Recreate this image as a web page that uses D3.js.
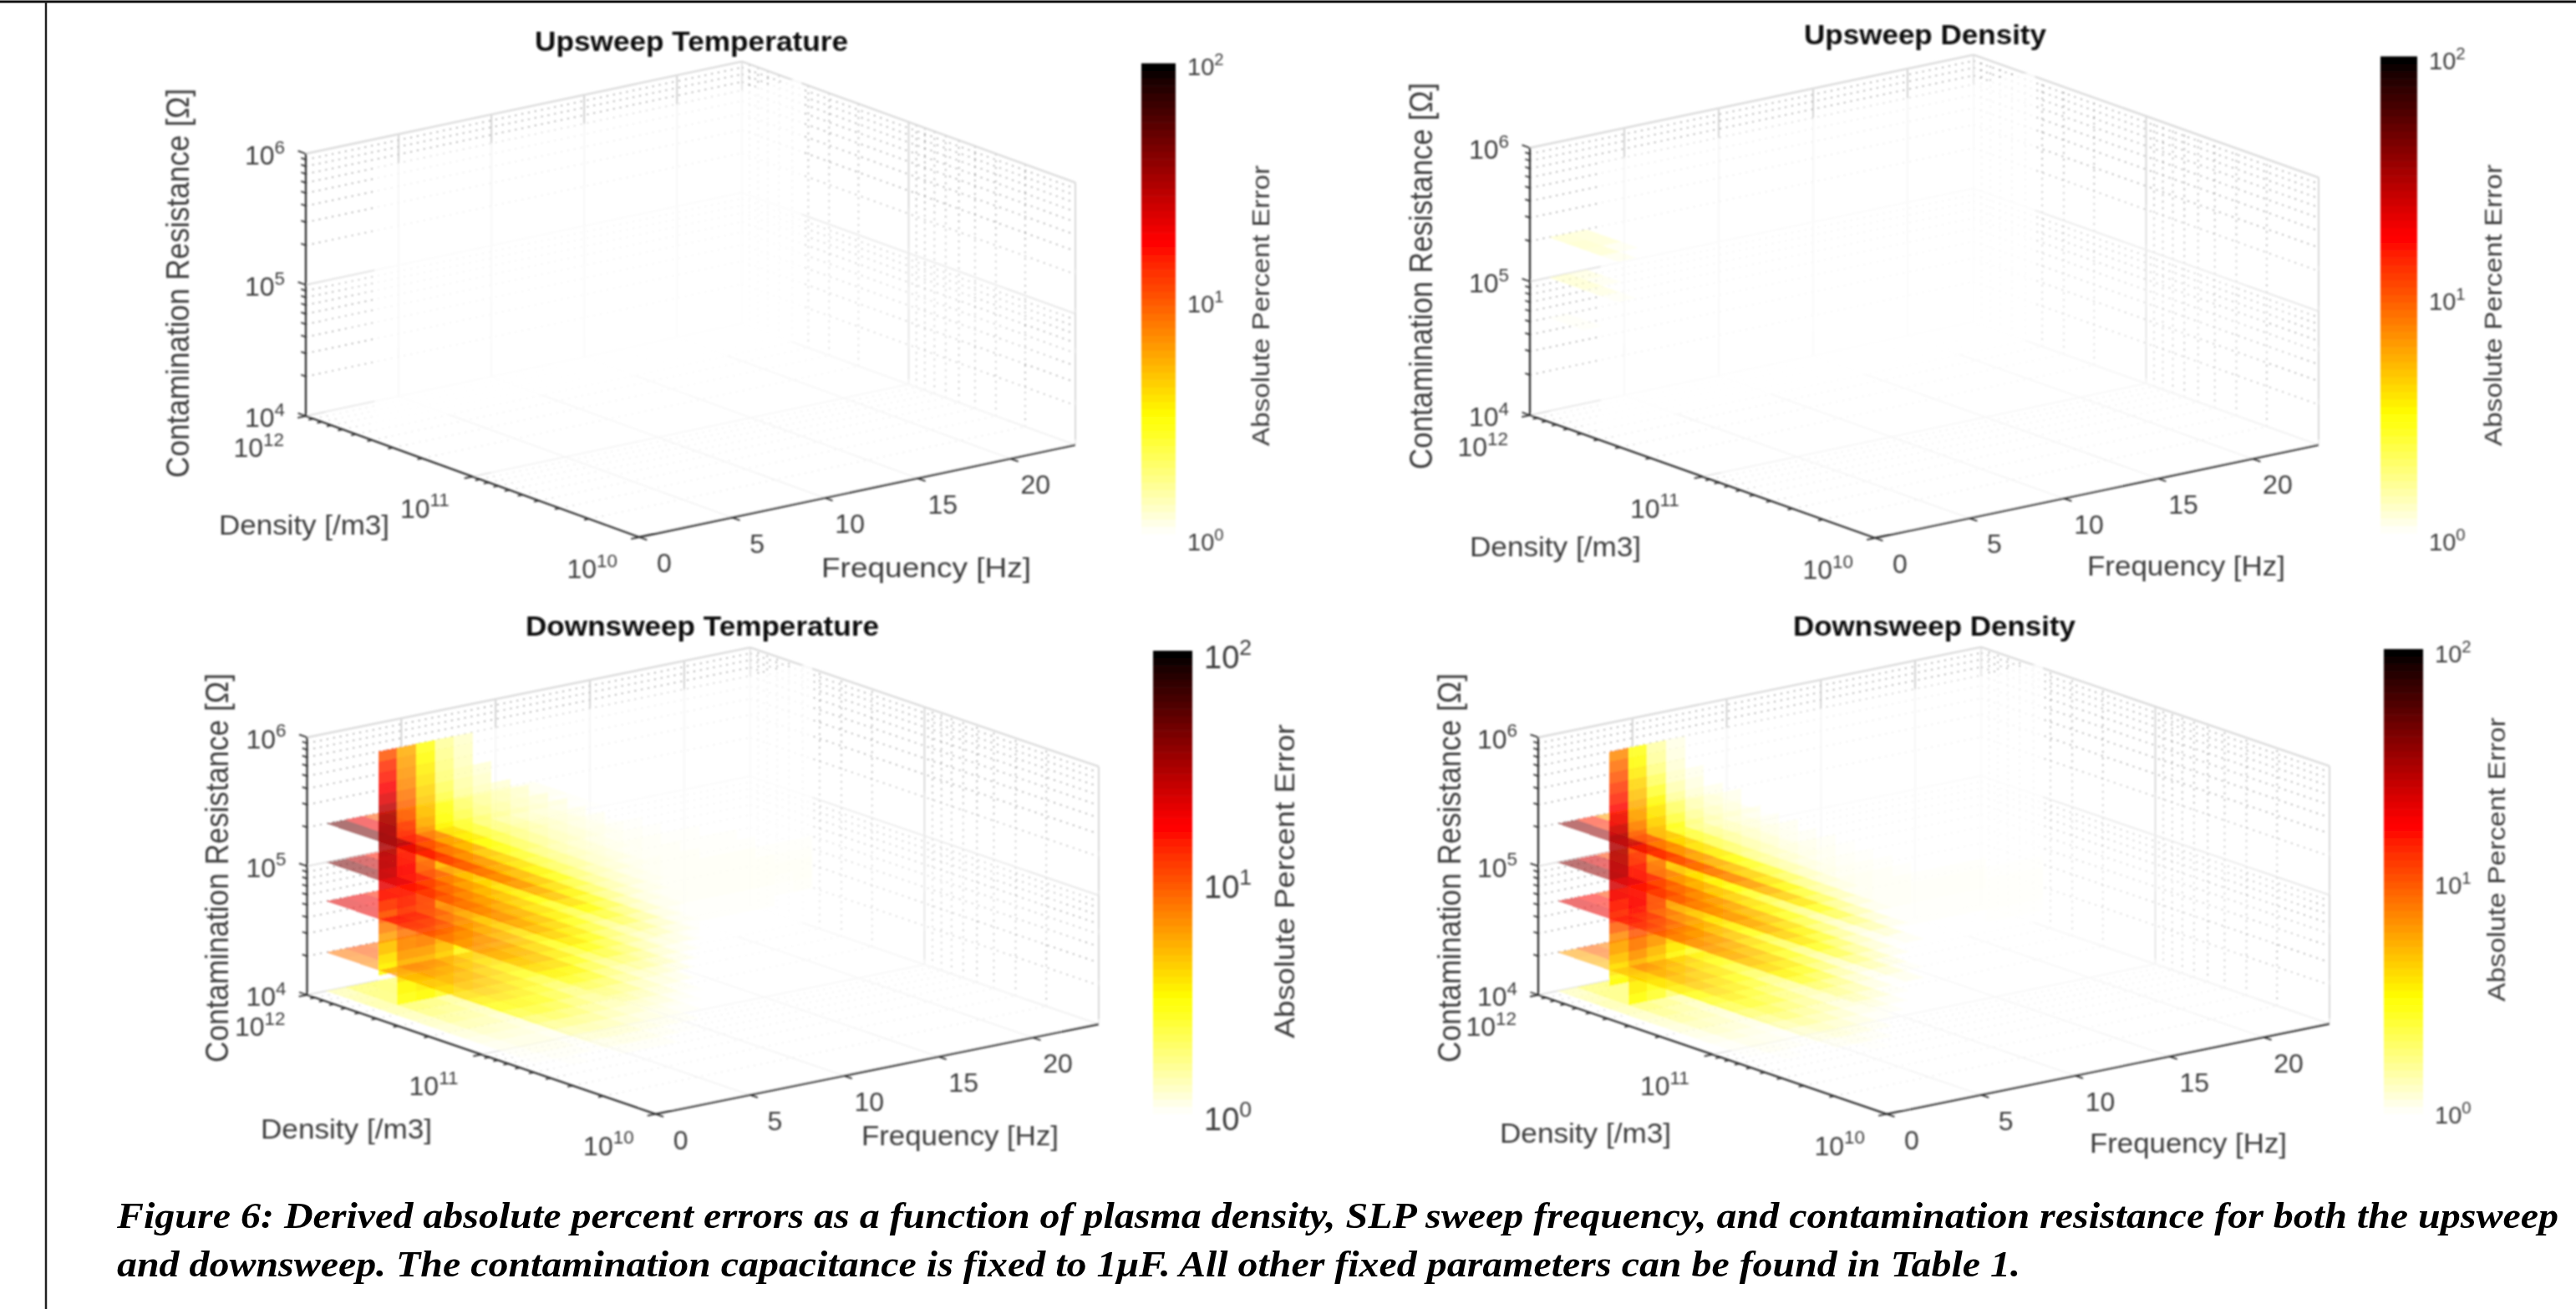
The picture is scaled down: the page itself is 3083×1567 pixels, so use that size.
<!DOCTYPE html>
<html>
<head>
<meta charset="utf-8">
<script src="https://cdn.jsdelivr.net/npm/d3@7"></script>
<style>
html, body { margin: 0; padding: 0; background: #fff; }
text { font-family: "Liberation Sans", Arial, sans-serif; }
</style>
</head>
<body>
<div id="my_dataviz"></div>
<script>
// axis values
var fTicks = [0, 5, 10, 15, 20];
var fLimits = [0, 23.5];
var densityTicks = [1e12, 1e11, 1e10];
var densityMinor = [9e11, 8e11, 7e11, 6e11, 5e11, 4e11, 3e11, 2e11, 9e10, 8e10, 7e10, 6e10, 5e10, 4e10, 3e10, 2e10];
var resistTicks = [1e4, 1e5, 1e6];
var resistMinor = [2e4, 3e4, 4e4, 5e4, 6e4, 7e4, 8e4, 9e4, 2e5, 3e5, 4e5, 5e5, 6e5, 7e5, 8e5, 9e5];
var errorTicks = [1, 10, 100];

// cell edges of the slices
var fEdges = [1, 2, 3, 4, 5, 6, 7, 8, 9, 10, 11, 12, 13, 14, 15, 16, 17, 18, 19, 20, 21, 22, 23, 24];
var densityEdges = [1e12, 7.9e11, 6.3e11, 5e11, 4e11, 3.2e11, 2.5e11, 2e11, 1.6e11, 1.3e11, 1e11, 7.9e10, 6.3e10, 5e10, 4e10, 3.2e10, 2.5e10, 2e10, 1.6e10, 1.3e10, 1e10];
var resistEdges = [1e4, 1.2e4, 1.5e4, 1.8e4, 2.2e4, 2.6e4, 3.2e4, 3.8e4, 4.6e4, 5.6e4, 6.8e4, 8.3e4, 1e5, 1.2e5, 1.5e5, 1.8e5, 2.2e5, 2.6e5, 3.2e5, 3.8e5, 4.6e5, 5.6e5, 6.8e5, 8.3e5, 1e6];
var sliceResist = [1e4, 2e4, 5e4, 1e5, 2e5];
var sliceDensity = 5e11;

// percent error, rows = frequency, columns = density, missing cells read as 1
var downT_1e4 = [
    [1.6, 1.7, 1.8, 1.8, 1.7, 1.6, 1.5, 1.4, 1.3, 1.2, 1.1, 1.05],
    [2.4, 2.5, 2.5, 2.4, 2.2, 2, 1.8, 1.6, 1.45, 1.3, 1.2, 1.1, 1.05],
    [2.6, 2.6, 2.5, 2.3, 2.1, 1.9, 1.75, 1.55, 1.4, 1.3, 1.2, 1.1],
    [2.4, 2.3, 2.2, 2, 1.85, 1.7, 1.55, 1.4, 1.3, 1.2, 1.1, 1.05],
    [2, 1.9, 1.8, 1.7, 1.55, 1.45, 1.35, 1.25, 1.15, 1.1, 1.05],
    [1.7, 1.6, 1.55, 1.45, 1.35, 1.25, 1.2, 1.1, 1.05],
    [1.45, 1.4, 1.35, 1.3, 1.2, 1.15, 1.1, 1.05],
    [1.3, 1.25, 1.2, 1.15, 1.1, 1.05],
    [1.2, 1.15, 1.1, 1.05],
    [1.1, 1.05]
];
var downT_2e4 = [
    [8, 7.5, 7, 6.2, 5.5, 5, 4.4, 4, 3.5, 3.1, 2.7, 2.3, 2, 1.7, 1.45, 1.25, 1.1],
    [10, 9.5, 8.5, 7.5, 6.5, 5.7, 5, 4.4, 3.8, 3.3, 2.9, 2.5, 2.1, 1.8, 1.5, 1.3, 1.1],
    [9, 8.5, 8, 7, 6, 5.3, 4.6, 4, 3.5, 3.1, 2.7, 2.3, 2, 1.7, 1.45, 1.25, 1.1],
    [7.5, 7, 6.5, 5.6, 5, 4.4, 3.9, 3.4, 3, 2.7, 2.3, 2, 1.75, 1.5, 1.3, 1.15],
    [6, 5.5, 5, 4.5, 4, 3.5, 3.1, 2.8, 2.5, 2.2, 2, 1.75, 1.55, 1.35, 1.2, 1.05],
    [4.6, 4.3, 4, 3.6, 3.2, 2.8, 2.5, 2.3, 2.1, 1.85, 1.7, 1.5, 1.35, 1.2, 1.1],
    [3.5, 3.3, 3, 2.8, 2.5, 2.3, 2.1, 1.9, 1.75, 1.6, 1.45, 1.3, 1.2, 1.1],
    [2.8, 2.6, 2.4, 2.2, 2, 1.85, 1.7, 1.6, 1.45, 1.35, 1.25, 1.15, 1.05],
    [2.2, 2.1, 2, 1.8, 1.7, 1.55, 1.45, 1.35, 1.25, 1.15, 1.1, 1.05],
    [1.8, 1.7, 1.6, 1.5, 1.4, 1.3, 1.25, 1.15, 1.1, 1.05],
    [1.5, 1.45, 1.35, 1.3, 1.2, 1.15, 1.1, 1.05],
    [1.3, 1.25, 1.2, 1.15, 1.1, 1.05],
    [1.2, 1.15, 1.1, 1.05],
    [1.1, 1.05]
];
var downT_5e4 = [
    [22, 21, 20, 16, 13, 11, 9, 8, 7, 6, 5, 4.2, 3.4, 2.8, 2.3, 1.9, 1.6, 1.3, 1.1],
    [20, 19, 18, 14, 12, 10, 8.5, 7.5, 6.5, 5.5, 4.8, 4, 3.3, 2.7, 2.2, 1.8, 1.5, 1.25],
    [14, 13, 12, 10, 8.5, 7.5, 6.5, 5.6, 4.9, 4.2, 3.6, 3, 2.5, 2.1, 1.8, 1.5, 1.3, 1.1],
    [9, 8.5, 8, 7, 6, 5.2, 4.6, 4, 3.5, 3, 2.7, 2.3, 2, 1.7, 1.5, 1.3, 1.1],
    [6, 5.8, 5.4, 4.8, 4.2, 3.7, 3.3, 2.9, 2.6, 2.3, 2, 1.8, 1.6, 1.4, 1.2, 1.05],
    [4.2, 4, 3.8, 3.4, 3.1, 2.8, 2.5, 2.2, 2, 1.8, 1.65, 1.5, 1.3, 1.2, 1.05],
    [3.2, 3, 2.8, 2.6, 2.4, 2.2, 2, 1.8, 1.65, 1.5, 1.4, 1.3, 1.15, 1.05],
    [2.5, 2.4, 2.2, 2, 1.9, 1.75, 1.6, 1.5, 1.4, 1.3, 1.2, 1.1, 1.05],
    [2, 1.9, 1.8, 1.65, 1.55, 1.45, 1.35, 1.3, 1.2, 1.15, 1.1, 1.05],
    [1.7, 1.6, 1.5, 1.4, 1.35, 1.3, 1.2, 1.15, 1.1, 1.05],
    [1.45, 1.4, 1.3, 1.25, 1.2, 1.15, 1.1, 1.05],
    [1.3, 1.25, 1.2, 1.15, 1.1, 1.05, 1.05],
    [1.2, 1.15, 1.1, 1.05, 1.05],
    [1.1, 1.05, 1.05]
];
var downT_1e5 = [
    [44, 42, 38, 22, 16, 13, 11, 9.5, 8.5, 7.5, 6.5, 5.5, 4.5, 3.7, 3, 2.5, 2, 1.7, 1.4, 1.2],
    [28, 26, 22, 15, 12, 10, 8.5, 7.5, 6.5, 5.8, 5, 4.3, 3.6, 3, 2.5, 2.1, 1.8, 1.5, 1.25],
    [15, 14, 12, 10, 8.5, 7, 6, 5.2, 4.6, 4, 3.5, 3, 2.6, 2.2, 1.9, 1.6, 1.4, 1.2],
    [8, 7.5, 7, 6, 5.2, 4.6, 4, 3.6, 3.2, 2.8, 2.5, 2.2, 1.9, 1.7, 1.5, 1.3, 1.15],
    [5, 4.8, 4.4, 4, 3.6, 3.2, 2.9, 2.6, 2.3, 2.1, 1.9, 1.7, 1.5, 1.35, 1.2, 1.1],
    [3.4, 3.2, 3, 2.8, 2.6, 2.4, 2.2, 2, 1.85, 1.7, 1.55, 1.4, 1.3, 1.2, 1.1],
    [2.5, 2.4, 2.3, 2.1, 2, 1.85, 1.7, 1.6, 1.5, 1.4, 1.3, 1.2, 1.15, 1.05],
    [2, 1.9, 1.8, 1.7, 1.6, 1.5, 1.45, 1.35, 1.3, 1.2, 1.15, 1.1],
    [1.6, 1.55, 1.5, 1.4, 1.35, 1.3, 1.25, 1.2, 1.15, 1.1, 1.05],
    [1.4, 1.35, 1.3, 1.25, 1.2, 1.2, 1.15, 1.1, 1.05],
    [1.25, 1.2, 1.2, 1.15, 1.1, 1.1, 1.05],
    [1.15, 1.1, 1.1, 1.05, 1.05],
    [1.1, 1.05, 1.05]
];
var downT_2e5 = [
    [48, 46, 44, 32, 22, 18, 15, 12.5, 10.5, 9, 7.5, 6, 5, 4, 3.2, 2.6, 2.2, 1.8, 1.5, 1.2],
    [20, 19, 17, 14, 12, 10, 8.5, 7.5, 6.5, 5.5, 4.8, 4, 3.4, 2.8, 2.4, 2, 1.7, 1.4, 1.2],
    [10, 9.5, 9, 8, 7, 6, 5, 4.4, 3.9, 3.4, 3, 2.6, 2.2, 1.9, 1.6, 1.4, 1.2, 1.1],
    [5, 4.8, 4.5, 4, 3.6, 3.2, 2.9, 2.7, 2.4, 2.2, 2, 1.8, 1.6, 1.4, 1.2, 1.1],
    [3, 2.9, 2.8, 2.6, 2.4, 2.2, 2.1, 1.9, 1.8, 1.7, 1.5, 1.4, 1.3, 1.15],
    [2.2, 2.1, 2, 1.9, 1.8, 1.7, 1.6, 1.5, 1.4, 1.3, 1.25, 1.15, 1.1],
    [1.7, 1.7, 1.6, 1.5, 1.5, 1.4, 1.35, 1.3, 1.25, 1.2, 1.1, 1.05],
    [1.4, 1.4, 1.35, 1.3, 1.3, 1.25, 1.2, 1.15, 1.1, 1.05],
    [1.3, 1.25, 1.2, 1.2, 1.15, 1.1, 1.1, 1.05],
    [1.2, 1.15, 1.1, 1.1, 1.05, 1.05],
    [1.1, 1.1, 1.05, 1.05]
];
// vertical slice at fixed density, rows = frequency, columns = resistance from 1e4 up
var downT_wall = [
    [1, 1, 1, 3.2, 3.6, 4.5, 6, 7.5, 9.5, 12, 16, 21, 25, 28, 30, 33, 34, 32, 27, 22, 18, 15, 13, 10],
    [3, 3.3, 4, 5, 6, 7, 8, 10, 12, 14, 16, 17, 17, 16, 15, 13, 12, 10, 9, 8, 7, 6.5, 6, 5.5],
    [3.2, 3.6, 4.2, 5, 6, 7.5, 9, 10, 11, 11.5, 11, 10, 9, 8, 7, 6.3, 5.5, 5, 4.6, 4.2, 3.8, 3.5, 3.2, 3],
    [2.8, 3.2, 3.7, 4.2, 4.8, 5.5, 6, 6.5, 6.5, 6.2, 5.8, 5.3, 4.8, 4.2, 3.7, 3.3, 3, 2.9, 2.6, 2.4, 2.2, 2.1, 2, 1.9],
    [1.9, 2.2, 2.5, 2.8, 3.2, 3.6, 4, 4.3, 4.4, 4.3, 4.1, 3.8, 3.5, 3.2, 2.9, 2.6, 2.3, 2.1, 1.9, 1.8, 1.7, 1.6, 1.55, 1.5],
    [1.5, 1.7, 1.9, 2.1, 2.4, 2.7, 3, 3.2, 3.3, 3.2, 3, 2.8, 2.6, 2.4, 2.2, 2, 1.8, 1.7, 1.6, 1.5, 1.4],
    [1.3, 1.4, 1.6, 1.8, 2, 2.2, 2.4, 2.5, 2.6, 2.6, 2.5, 2.3, 2.2, 2, 1.8, 1.7, 1.6, 1.5, 1.4],
    [1.2, 1.3, 1.4, 1.5, 1.6, 1.8, 1.9, 2, 2.1, 2.1, 2, 1.9, 1.8, 1.7, 1.6, 1.5, 1.4, 1.35],
    [1.1, 1.2, 1.3, 1.4, 1.5, 1.6, 1.7, 1.8, 1.8, 1.8, 1.8, 1.7, 1.6, 1.5, 1.4, 1.35, 1.3],
    [1.1, 1.15, 1.25, 1.3, 1.4, 1.5, 1.55, 1.6, 1.6, 1.6, 1.55, 1.5, 1.4, 1.35, 1.3, 1.25],
    [1.05, 1.1, 1.2, 1.25, 1.3, 1.35, 1.4, 1.45, 1.45, 1.45, 1.4, 1.35, 1.3, 1.25, 1.2],
    [1.05, 1.1, 1.15, 1.2, 1.25, 1.3, 1.3, 1.35, 1.35, 1.3, 1.3, 1.25, 1.2, 1.15],
    [1.05, 1.1, 1.1, 1.15, 1.2, 1.2, 1.25, 1.25, 1.25, 1.2, 1.2, 1.15, 1.1],
    [1.05, 1.05, 1.1, 1.1, 1.15, 1.15, 1.2, 1.2, 1.2, 1.15, 1.15, 1.1, 1.05],
    [1, 1.05, 1.05, 1.1, 1.1, 1.15, 1.15, 1.15, 1.15, 1.1, 1.1, 1.05],
    [1, 1.05, 1.05, 1.1, 1.1, 1.1, 1.1, 1.1, 1.1, 1.1, 1.05],
    [1, 1.05, 1.05, 1.05, 1.1, 1.1, 1.1, 1.1, 1.1, 1.05, 1.05],
    [1, 1, 1.05, 1.05, 1.1, 1.1, 1.1, 1.1, 1.05, 1.05],
    [1, 1, 1.05, 1.05, 1.1, 1.1, 1.1, 1.1, 1.05, 1.05],
    [1, 1, 1.05, 1.05, 1.1, 1.1, 1.1, 1.1, 1.05],
    [1, 1, 1.05, 1.05, 1.1, 1.1, 1.1, 1.05],
    [1, 1, 1, 1.05, 1.08, 1.1, 1.08, 1.05],
    [1, 1, 1, 1.08, 1.1, 1.1, 1.08, 1.05]
];

var downD_1e4 = [
    [1.5, 1.6, 1.7, 1.7, 1.6, 1.5, 1.4, 1.3, 1.2, 1.1, 1.05],
    [2.3, 2.4, 2.4, 2.3, 2.1, 1.9, 1.7, 1.55, 1.4, 1.25, 1.15, 1.05],
    [2.4, 2.4, 2.3, 2.1, 1.9, 1.75, 1.6, 1.45, 1.3, 1.2, 1.1],
    [2.2, 2.1, 2, 1.8, 1.65, 1.5, 1.4, 1.3, 1.2, 1.1, 1.05],
    [1.8, 1.7, 1.6, 1.5, 1.4, 1.3, 1.2, 1.15, 1.05],
    [1.5, 1.45, 1.35, 1.3, 1.2, 1.15, 1.05],
    [1.3, 1.25, 1.2, 1.15, 1.1, 1.05],
    [1.15, 1.1, 1.05]
];
var downD_2e4 = [
    [6, 5.6, 5.2, 4.8, 4.4, 4, 3.6, 3.2, 2.9, 2.6, 2.3, 2, 1.75, 1.5, 1.3, 1.15],
    [9, 8.5, 8, 7, 6, 5.2, 4.6, 4, 3.5, 3, 2.6, 2.3, 1.95, 1.65, 1.4, 1.2, 1.05],
    [7.5, 7, 6.5, 5.8, 5.2, 4.5, 3.9, 3.5, 3, 2.7, 2.3, 2, 1.75, 1.5, 1.3, 1.1],
    [6, 5.6, 5.2, 4.6, 4.1, 3.7, 3.2, 2.9, 2.5, 2.2, 2, 1.75, 1.5, 1.3, 1.15],
    [4.5, 4.2, 3.9, 3.5, 3.1, 2.8, 2.5, 2.2, 2, 1.8, 1.6, 1.4, 1.25, 1.1],
    [3.4, 3.2, 3, 2.7, 2.4, 2.2, 2, 1.8, 1.6, 1.45, 1.3, 1.2, 1.05],
    [2.6, 2.5, 2.3, 2.1, 1.9, 1.75, 1.6, 1.45, 1.35, 1.2, 1.1, 1.05],
    [2, 1.9, 1.8, 1.65, 1.5, 1.4, 1.3, 1.2, 1.1, 1.05],
    [1.65, 1.55, 1.45, 1.35, 1.25, 1.2, 1.1, 1.05],
    [1.35, 1.3, 1.2, 1.15, 1.1, 1.05],
    [1.15, 1.1, 1.05]
];
var downD_5e4 = [
    [22, 21, 20, 15, 12.5, 10.5, 9, 8, 7, 6, 5, 4.2, 3.4, 2.8, 2.3, 1.9, 1.6, 1.3, 1.1],
    [17, 16, 15, 12.5, 10.5, 9, 7.8, 6.8, 5.8, 5, 4.3, 3.6, 3, 2.5, 2, 1.7, 1.4, 1.15],
    [11, 10.5, 9.5, 8.5, 7.3, 6.3, 5.5, 4.8, 4.1, 3.5, 3, 2.6, 2.2, 1.8, 1.5, 1.3, 1.1],
    [7, 6.5, 6, 5.2, 4.6, 4, 3.5, 3.1, 2.7, 2.4, 2.1, 1.85, 1.6, 1.4, 1.2, 1.05],
    [4.5, 4.3, 4, 3.6, 3.2, 2.9, 2.6, 2.3, 2.1, 1.85, 1.65, 1.5, 1.3, 1.15, 1.05],
    [3.2, 3, 2.8, 2.5, 2.3, 2.1, 1.9, 1.75, 1.6, 1.45, 1.3, 1.2, 1.05],
    [2.4, 2.3, 2.1, 1.9, 1.8, 1.65, 1.5, 1.4, 1.3, 1.2, 1.1, 1.05],
    [1.9, 1.8, 1.65, 1.55, 1.45, 1.35, 1.25, 1.2, 1.1, 1.05],
    [1.55, 1.45, 1.35, 1.3, 1.25, 1.15, 1.1, 1.05],
    [1.3, 1.25, 1.2, 1.15, 1.1, 1.05],
    [1.15, 1.1, 1.05]
];
var downD_1e5 = [
    [40, 38, 34, 22, 16, 13, 11, 9.5, 8.5, 7.5, 6.5, 5.5, 4.5, 3.7, 3, 2.5, 2, 1.7, 1.4, 1.2],
    [24, 22, 19, 14, 11.5, 10, 8.5, 7.5, 6.5, 5.5, 4.8, 4, 3.4, 2.8, 2.3, 1.9, 1.6, 1.3, 1.1],
    [11, 10.5, 9.5, 8, 7, 6, 5.2, 4.6, 4, 3.5, 3, 2.6, 2.2, 1.9, 1.6, 1.4, 1.2],
    [5.8, 5.5, 5, 4.5, 4, 3.5, 3.1, 2.8, 2.5, 2.2, 2, 1.75, 1.55, 1.35, 1.2, 1.05],
    [3.5, 3.4, 3.1, 2.9, 2.6, 2.4, 2.2, 2, 1.8, 1.65, 1.5, 1.35, 1.2, 1.1],
    [2.5, 2.4, 2.2, 2.1, 1.9, 1.8, 1.65, 1.5, 1.4, 1.3, 1.2, 1.1],
    [1.9, 1.8, 1.7, 1.6, 1.5, 1.4, 1.3, 1.25, 1.15, 1.1, 1.05],
    [1.5, 1.45, 1.4, 1.3, 1.25, 1.2, 1.15, 1.1, 1.05],
    [1.3, 1.25, 1.2, 1.15, 1.1, 1.05],
    [1.15, 1.1, 1.05]
];
var downD_2e5 = [
    [40, 38, 36, 27, 20, 17, 14, 12, 10, 8.5, 7, 5.6, 4.6, 3.8, 3, 2.5, 2, 1.7, 1.4, 1.15],
    [14, 13, 12, 10.5, 9, 8, 7, 6, 5.2, 4.5, 3.9, 3.3, 2.8, 2.4, 2, 1.7, 1.4, 1.2],
    [6, 5.8, 5.5, 5, 4.5, 4, 3.6, 3.2, 2.9, 2.6, 2.3, 2, 1.8, 1.6, 1.35, 1.15],
    [3, 2.9, 2.8, 2.6, 2.4, 2.2, 2, 1.85, 1.7, 1.6, 1.45, 1.3, 1.2, 1.05],
    [2, 1.95, 1.85, 1.75, 1.65, 1.55, 1.45, 1.4, 1.3, 1.2, 1.1, 1.05],
    [1.55, 1.5, 1.45, 1.4, 1.3, 1.25, 1.2, 1.15, 1.1, 1.05],
    [1.3, 1.25, 1.2, 1.2, 1.15, 1.1, 1.05],
    [1.15, 1.1, 1.1, 1.05]
];
var downD_wall = [
    [1, 1, 3.2, 3.8, 4.6, 5.7, 7, 9.5, 13, 15, 19, 24, 28, 29, 30, 30, 25, 20, 17, 14, 12, 10, 8.5, 7],
    [3.1, 3.5, 4.2, 5, 6.5, 8, 10, 13, 16, 18, 18, 17, 15, 13, 11, 9, 7.5, 6.3, 5.5, 4.8, 4.2, 3.6, 3.2, 3],
    [2.7, 3, 3.5, 4.2, 5, 6.5, 8, 9.5, 10.5, 11, 10.5, 9.5, 8, 6.8, 5.8, 5, 4.4, 3.8, 3.3, 2.8, 2.4, 2.1, 1.9, 1.8],
    [2, 2.3, 2.6, 3, 3.6, 4.2, 5, 5.6, 6, 6, 5.6, 5, 4.4, 3.8, 3.3, 2.9, 2.5, 2.2, 1.9, 1.7, 1.5, 1.4, 1.3, 1.25],
    [1.6, 1.8, 2.1, 2.5, 3, 3.5, 4, 4.2, 4.2, 4, 3.6, 3.2, 2.8, 2.5, 2.2, 1.9, 1.7, 1.55, 1.4, 1.3, 1.2],
    [1.4, 1.6, 1.8, 2, 2.4, 2.7, 3, 3.1, 3.1, 2.9, 2.6, 2.4, 2.1, 1.9, 1.7, 1.5, 1.4, 1.3, 1.2],
    [1.25, 1.4, 1.5, 1.7, 1.9, 2.1, 2.3, 2.4, 2.4, 2.3, 2.1, 1.9, 1.75, 1.6, 1.45, 1.35, 1.25, 1.2],
    [1.15, 1.25, 1.35, 1.5, 1.6, 1.8, 1.9, 2, 2, 1.9, 1.8, 1.6, 1.5, 1.4, 1.3, 1.2],
    [1.1, 1.15, 1.25, 1.35, 1.45, 1.55, 1.65, 1.7, 1.7, 1.65, 1.55, 1.45, 1.35, 1.25, 1.15],
    [1.05, 1.1, 1.2, 1.25, 1.35, 1.4, 1.45, 1.5, 1.5, 1.45, 1.4, 1.3, 1.2, 1.15],
    [1.05, 1.1, 1.15, 1.2, 1.25, 1.3, 1.35, 1.35, 1.35, 1.3, 1.25, 1.2, 1.1],
    [1.05, 1.05, 1.1, 1.15, 1.2, 1.2, 1.25, 1.25, 1.25, 1.2, 1.15, 1.1],
    [1, 1.05, 1.1, 1.1, 1.15, 1.15, 1.2, 1.2, 1.15, 1.1, 1.05],
    [1, 1.05, 1.05, 1.1, 1.1, 1.15, 1.15, 1.15, 1.1, 1.05],
    [1, 1.05, 1.05, 1.05, 1.1, 1.1, 1.1, 1.1, 1.05],
    [1, 1, 1.05, 1.05, 1.1, 1.1, 1.1, 1.05],
    [1, 1, 1.05, 1.05, 1.08, 1.08, 1.05],
    [1, 1, 1.05, 1.05, 1.08, 1.08, 1.05],
    [1, 1, 1.05, 1.05, 1.08, 1.08, 1.05],
    [1, 1, 1.05, 1.05, 1.08, 1.08, 1.05],
    [1, 1.03, 1.05, 1.05, 1.05, 1.03],
    [1, 1.03, 1.05, 1.05, 1.05, 1.03],
    [1, 1.03, 1.05, 1.05, 1.05, 1.03]
];

var upD_5e4 = [[1.05, 1.05]];
var upD_1e5 = [[1.35, 1.35, 1.2, 1.1], [1.2, 1.1]];
var upD_2e5 = [[1.35, 1.4, 1.35, 1.2], [1.3, 1.3, 1.1]];

var caption = [
    "Figure 6: Derived absolute percent errors as a function of plasma density, SLP sweep frequency, and contamination resistance for both the upsweep",
    "and downsweep. The contamination capacitance is fixed to 1\u03bcF. All other fixed parameters can be found in Table 1."
];

var panels = [{
    title: "Upsweep Temperature",
    slices: [[], [], [], [], []], wall: [],
    A: [366, 498], B: [765, 643], C: [1287, 532.6], H: 314,
    titleBox: [640, 60.6, 375], yLabel: [226, 572, 466], dLabel: [262, 640, 204], fLabel: [983, 691, 251],
    bar: [1366, 1407, 75.8, 639], barText: [1421, [659, 374, 90], 29], barLabel: [1519, 534, 336, 30]
}, {
    title: "Upsweep Density",
    slices: [[], [], upD_5e4, upD_1e5, upD_2e5], wall: [],
    A: [1831, 497], B: [2244, 644], C: [2775, 532.6], H: 320,
    titleBox: [2159, 53, 290], yLabel: [1714, 562, 463], dLabel: [1759, 666, 205], fLabel: [2498, 689, 237],
    bar: [2849, 2893, 67.5, 638], barText: [2907, [659, 371, 83], 29], barLabel: [2994, 534, 337, 30]
}, {
    title: "Downsweep Temperature",
    slices: [downT_1e4, downT_2e4, downT_5e4, downT_1e5, downT_2e5], wall: downT_wall,
    A: [367.5, 1191], B: [784.6, 1333.6], C: [1315, 1226], H: 308.3,
    titleBox: [629, 761, 423], yLabel: [273, 1272, 466], dLabel: [312, 1363, 205], fLabel: [1031, 1371, 236],
    bar: [1380, 1427, 779, 1333], barText: [1441, [1353, 1075, 800], 38], barLabel: [1549, 1243, 376, 34]
}, {
    title: "Downsweep Density",
    slices: [downD_1e4, downD_2e4, downD_5e4, downD_1e5, downD_2e5], wall: downD_wall,
    A: [1841, 1191], B: [2258, 1333.6], C: [2788, 1225.5], H: 308.3,
    titleBox: [2146, 761, 338], yLabel: [1748, 1272, 466], dLabel: [1795, 1367.5, 205], fLabel: [2501, 1379.5, 236],
    bar: [2853, 2900, 777, 1333], barText: [2914, [1345, 1070, 793], 29], barLabel: [2998, 1199, 340, 30]
}];

var svg = d3.select("#my_dataviz")
    .append("svg")
    .attr("width", 3083)
    .attr("height", 1567)
    .style("display", "block");

svg.append("defs").append("filter")
    .attr("id", "soft")
    .attr("filterUnits", "userSpaceOnUse")
    .attr("x", 0).attr("y", 0).attr("width", 3083).attr("height", 1567)
    .append("feGaussianBlur")
    .attr("stdDeviation", 0.9);

// flipped MATLAB hot map, on a log axis from 1 to 100
var errorPos = d3.scaleLog().domain([1, 100]).range([0, 1]);
var hot = d3.scaleLinear()
    .domain([0, 0.25, 0.625, 1])
    .range(["#ffffff", "#ffff00", "#ff0000", "#000000"])
    .clamp(true);

// small errors are fainter
var frontAlpha = d3.scaleLog().domain([1.05, 3.2]).range([0.3, 0.72]).clamp(true);
var wallAlpha = d3.scaleLog().domain([1.05, 3.2]).range([0.35, 0.85]).clamp(true);

var fScale = d3.scaleLinear().domain(fLimits).range([0, 1]);
var dScale = d3.scaleLog().domain([1e12, 1e10]).range([0, 1]);
var rScale = d3.scaleLog().domain([1e4, 1e6]).range([0, 1]);

function label(g, x, y, str, size, opts) {
    opts = opts || {};
    var t = g.append("text")
        .attr("x", x)
        .attr("y", y)
        .attr("font-size", size)
        .attr("fill", opts.fill || "#3c3c3c")
        .attr("font-weight", opts.weight || "normal")
        .attr("text-anchor", opts.anchor || "start")
        .text(str);
    if (opts.len) t.attr("textLength", opts.len).attr("lengthAdjust", "spacingAndGlyphs");
    if (opts.rotate) t.attr("transform", "rotate(-90," + x + "," + y + ")");
    return t;
}

// "10" with a raised exponent, right edge or left edge on x
function powerLabel(g, x, y, exp, size, alignLeft) {
    var small = size * 0.7;
    var baseW = size * 1.112;
    var expW = String(exp).length * small * 0.556;
    var x0 = alignLeft ? x : x - baseW - expW;
    label(g, x0, y, "10", size);
    label(g, x0 + baseW, y - size * 0.42, exp, small);
}

function drawPanel(p) {
    var fVec = [p.C[0] - p.B[0], p.C[1] - p.B[1]];
    var dVec = [p.B[0] - p.A[0], p.B[1] - p.A[1]];
    var project = function(f, d, r) {
        var u = fScale(f), v = dScale(d), w = rScale(r);
        return [p.A[0] + u * fVec[0] + v * dVec[0], p.A[1] + u * fVec[1] + v * dVec[1] - w * p.H];
    };
    var unit = function(a) {
        var n = Math.sqrt(a[0] * a[0] + a[1] * a[1]);
        return [a[0] / n, a[1] / n];
    };
    var fMax = fLimits[1], fMin = fLimits[0];
    var dTop = densityTicks[0], dEnd = densityTicks[2], rLow = resistTicks[0], rTop = resistTicks[2];

    var g = svg.append("g").attr("filter", "url(#soft)");

    function seg(a, b, stroke, width, dash, opacity) {
        g.append("line")
            .attr("x1", a[0]).attr("y1", a[1])
            .attr("x2", b[0]).attr("y2", b[1])
            .attr("stroke", stroke)
            .attr("stroke-width", width)
            .attr("stroke-dasharray", dash || null)
            .attr("stroke-opacity", opacity === undefined ? 1 : opacity);
    }

    // minor grid, dotted
    var dots = "1.8 6.2";
    resistMinor.forEach(function(r) {
        seg(project(fMin, dTop, r), project(fMax, dTop, r), "#8c8c8c", 1.4, dots);
        seg(project(fMax, dTop, r), project(fMax, dEnd, r), "#909090", 1.4, dots);
    });
    densityMinor.forEach(function(d) {
        seg(project(fMax, d, rLow), project(fMax, d, rTop), "#909090", 1.4, dots);
        seg(project(fMin, d, rLow), project(fMax, d, rLow), "#a0a0a0", 1.4, dots, 0.5);
    });

    // major grid and the box
    fTicks.slice(1).forEach(function(f) {
        seg(project(f, dTop, rLow), project(f, dTop, rTop), "#c4c4c4", 1.5);
        seg(project(f, dTop, rLow), project(f, dEnd, rLow), "#e2e2e2", 1.5);
    });
    seg(project(fMin, densityTicks[1], rLow), project(fMax, densityTicks[1], rLow), "#e2e2e2", 1.5);
    seg(project(fMax, densityTicks[1], rLow), project(fMax, densityTicks[1], rTop), "#cccccc", 1.5);
    seg(project(fMin, dTop, resistTicks[1]), project(fMax, dTop, resistTicks[1]), "#e0e0e0", 1.8);
    seg(project(fMax, dTop, resistTicks[1]), project(fMax, dEnd, resistTicks[1]), "#e0e0e0", 1.8);
    seg(project(fMin, dTop, rTop), project(fMax, dTop, rTop), "#dcdcdc", 2.4);
    seg(project(fMax, dTop, rTop), project(fMax, dEnd, rTop), "#dcdcdc", 2.4);
    seg(project(fMax, dTop, rLow), project(fMax, dTop, rTop), "#dddddd", 1.5);
    seg(project(fMax, dEnd, rLow), project(fMax, dEnd, rTop), "#d8d8d8", 2);
    seg(project(fMin, dTop, rLow), project(fMax, dTop, rLow), "#e2e2e2", 2);
    seg(project(fMax, dTop, rLow), project(fMax, dEnd, rLow), "#e2e2e2", 2);

    // slices: white sheets first, they wash out the grid behind
    var f0 = fEdges[0], f1 = fEdges[fEdges.length - 1];
    var poly = function(pts) { return pts.map(function(q) { return q[0].toFixed(1) + "," + q[1].toFixed(1); }).join(" "); };
    sliceResist.forEach(function(r, k) {
        g.append("polygon")
            .attr("points", poly([project(f0, dTop, r), project(f1, dTop, r), project(f1, dEnd, r), project(f0, dEnd, r)]))
            .attr("fill", "#fff")
            .attr("fill-opacity", k == 0 ? 0.55 : 0.2);
    });
    g.append("polygon")
        .attr("points", poly([project(f0, sliceDensity, rLow), project(f1, sliceDensity, rLow), project(f1, sliceDensity, rTop), project(f0, sliceDensity, rTop)]))
        .attr("fill", "#fff")
        .attr("fill-opacity", 0.8);

    var backCells = [], frontCells = [];
    sliceResist.forEach(function(r, k) {
        p.slices[k].forEach(function(row, j) {
            row.forEach(function(v, i) {
                if (v <= 1) return;
                var cell = {
                    v: v,
                    pts: [project(fEdges[j], densityEdges[i], r), project(fEdges[j + 1], densityEdges[i], r),
                        project(fEdges[j + 1], densityEdges[i + 1], r), project(fEdges[j], densityEdges[i + 1], r)]
                };
                (densityEdges[i] > sliceDensity ? backCells : frontCells).push(cell);
            });
        });
    });
    var wallCells = [];
    p.wall.forEach(function(col, j) {
        col.forEach(function(v, i) {
            if (v <= 1) return;
            wallCells.push({
                v: v,
                pts: [project(fEdges[j], sliceDensity, resistEdges[i]), project(fEdges[j + 1], sliceDensity, resistEdges[i]),
                    project(fEdges[j + 1], sliceDensity, resistEdges[i + 1]), project(fEdges[j], sliceDensity, resistEdges[i + 1])]
            });
        });
    });

    function drawCells(cells, alpha) {
        g.append("g").selectAll("polygon")
            .data(cells)
            .join("polygon")
            .attr("points", function(d) { return poly(d.pts); })
            .attr("fill", function(d) { return hot(errorPos(d.v)); })
            .attr("fill-opacity", function(d) { return typeof alpha == "function" ? alpha(d.v) : alpha; })
            .attr("shape-rendering", "crispEdges");
    }

    drawCells(backCells, 0.55);
    drawCells(wallCells, wallAlpha);
    drawCells(frontCells, frontAlpha);

    // axes
    var ink = "#2e2e2e";
    seg(project(fMin, dTop, rLow), project(fMin, dTop, rTop), ink, 2.3);
    seg(project(fMin, dTop, rLow), project(fMin, dEnd, rLow), ink, 2.3);
    seg(project(fMin, dEnd, rLow), project(fMax, dEnd, rLow), ink, 2.3);

    var dDir = unit(dVec), fDir = unit(fVec);
    resistTicks.concat(resistMinor).forEach(function(r, i) {
        var a = project(fMin, dTop, r), len = i < 3 ? 10 : 6;
        seg(a, [a[0] - dDir[0] * len, a[1] - dDir[1] * len], ink, 1.8);
    });
    densityTicks.concat(densityMinor).forEach(function(d, i) {
        var a = project(fMin, d, rLow), len = i < 3 ? 10 : 6;
        seg(a, [a[0] - fDir[0] * len, a[1] - fDir[1] * len], ink, 1.8);
    });
    fTicks.forEach(function(f) {
        var a = project(f, dEnd, rLow);
        seg(a, [a[0] + dDir[0] * 10, a[1] + dDir[1] * 10], ink, 1.8);
    });

    // tick labels
    var t = svg.append("g").attr("filter", "url(#soft)");
    fTicks.forEach(function(f) {
        var a = project(f, dEnd, rLow);
        label(t, a[0] + 30, a[1] + 42, f, 32, { anchor: "middle" });
    });
    densityTicks.forEach(function(d) {
        var a = project(fMin, d, rLow);
        powerLabel(t, a[0] - 26, a[1] + 49, Math.round(Math.log10(d)), 32);
    });
    resistTicks.forEach(function(r) {
        var a = project(fMin, dTop, r);
        powerLabel(t, a[0] - 25, a[1] + 13, Math.round(Math.log10(r)), 32);
    });

    label(t, p.titleBox[0], p.titleBox[1], p.title, 33, { fill: "#111", weight: "bold", len: p.titleBox[2] });
    label(t, p.yLabel[0], p.yLabel[1], "Contamination Resistance [\u03a9]", 38, { rotate: true, len: p.yLabel[2] });
    label(t, p.dLabel[0], p.dLabel[1], "Density [/m3]", 34, { len: p.dLabel[2] });
    label(t, p.fLabel[0], p.fLabel[1], "Frequency [Hz]", 34, { len: p.fLabel[2] });

    // colorbar
    var barY = d3.scaleLinear().domain([0, 1]).range([p.bar[3], p.bar[2]]);
    var steps = d3.range(64);
    t.append("g").selectAll("rect")
        .data(steps)
        .join("rect")
        .attr("x", p.bar[0])
        .attr("width", p.bar[1] - p.bar[0])
        .attr("y", function(d) { return barY((d + 1) / 64); })
        .attr("height", function() { return (p.bar[3] - p.bar[2]) / 64 + 0.6; })
        .attr("fill", function(d) { return hot((d + 0.5) / 64); });
    errorTicks.forEach(function(v, i) {
        powerLabel(t, p.barText[0], p.barText[1][i], Math.round(Math.log10(v)), p.barText[2], true);
    });
    label(t, p.barLabel[0], p.barLabel[1], "Absolute Percent Error", p.barLabel[3], { rotate: true, len: p.barLabel[2] });
}

panels.forEach(drawPanel);

// page frame
svg.append("line").attr("x1", 0).attr("x2", 3083).attr("y1", 2).attr("y2", 2).attr("stroke", "#111").attr("stroke-width", 3);
svg.append("line").attr("x1", 55).attr("x2", 55).attr("y1", 2).attr("y2", 1567).attr("stroke", "#222").attr("stroke-width", 2.5);

// caption
var capLines = [[140, 1470, 2922], [140, 1528, 2278]];
caption.forEach(function(line, i) {
    svg.append("text")
        .attr("x", capLines[i][0])
        .attr("y", capLines[i][1])
        .attr("font-size", 45)
        .attr("font-weight", "bold")
        .attr("font-style", "italic")
        .attr("fill", "#000")
        .style("font-family", "'Liberation Serif', serif")
        .attr("textLength", capLines[i][2])
        .attr("lengthAdjust", "spacingAndGlyphs")
        .text(line);
});
</script>
</body>
</html>
